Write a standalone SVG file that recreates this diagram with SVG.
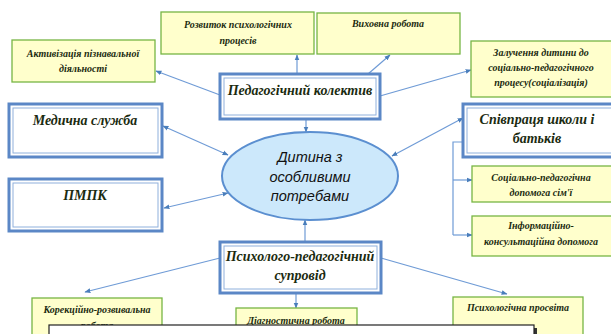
<svg xmlns="http://www.w3.org/2000/svg" width="611" height="334" viewBox="0 0 611 334">
<defs>
<marker id="ah" viewBox="0 0 10 10" refX="9" refY="5" markerWidth="6" markerHeight="6" orient="auto-start-reverse" markerUnits="userSpaceOnUse">
<path d="M0,1 L10,5 L0,9 z" fill="#4a7ebb"/>
</marker>
<style>
.g rect{fill:#ffffcc;stroke:#77b544;stroke-width:1.3}
.b .o{fill:#fff;stroke:#5b87c6;stroke-width:3}
.b .i{fill:none;stroke:#8fb0dc;stroke-width:1}
.gt{font-family:"Liberation Serif",serif;font-style:italic;font-weight:bold;font-size:10px;fill:#1b2b10;text-anchor:middle}
.bt{font-family:"Liberation Serif",serif;font-style:italic;font-weight:bold;font-size:14px;fill:#1b2b10;text-anchor:middle}
.et{font-family:"Liberation Sans",sans-serif;font-style:italic;font-size:14.5px;fill:#111;text-anchor:middle}
.c line,.c path{stroke:#6f9bd6;stroke-width:1.2;fill:none}
</style>
</defs>

<g class="c" id="connectors">
<line x1="220" y1="95" x2="156" y2="71" marker-end="url(#ah)"/>
<line x1="297" y1="74" x2="297" y2="55" marker-end="url(#ah)"/>
<line x1="368" y1="74" x2="390" y2="55" marker-end="url(#ah)"/>
<line x1="380" y1="96" x2="471" y2="70" marker-end="url(#ah)"/>
<line x1="306" y1="119" x2="306" y2="132" marker-end="url(#ah)"/>
<line x1="228" y1="155" x2="163" y2="126" marker-start="url(#ah)" marker-end="url(#ah)"/>
<line x1="228" y1="193" x2="164" y2="208" marker-start="url(#ah)" marker-end="url(#ah)"/>
<line x1="392" y1="156" x2="463" y2="118" marker-start="url(#ah)" marker-end="url(#ah)"/>
<path d="M463,142 H453 V235"/>
<line x1="453" y1="180" x2="472" y2="180" marker-end="url(#ah)"/>
<line x1="453" y1="235" x2="472" y2="235" marker-end="url(#ah)"/>
<line x1="305" y1="242" x2="305" y2="220" marker-end="url(#ah)"/>
<line x1="220" y1="258" x2="85" y2="292" marker-end="url(#ah)"/>
<line x1="296" y1="293" x2="296" y2="308" marker-end="url(#ah)"/>
<line x1="381" y1="258" x2="507" y2="294" marker-end="url(#ah)"/>
</g>

<g id="n-activ" class="g"><rect x="12" y="40" width="143" height="42"/>
<text class="gt" x="83" y="57">Активізація пізнавальної</text><text class="gt" x="83" y="72">діяльності</text></g>

<g id="n-rozvytok" class="g"><rect x="161" y="12" width="153" height="42"/>
<text class="gt" x="238" y="28">Розвиток психологічних</text><text class="gt" x="238" y="44">процесів</text></g>

<g id="n-vykhovna" class="g"><rect x="317" y="13" width="143" height="41"/>
<text class="gt" x="388" y="27">Виховна робота</text></g>

<g id="n-zaluch" class="g"><rect x="471" y="41" width="142" height="56"/>
<text class="gt" x="541" y="56">Залучення дитини до</text><text class="gt" x="541" y="71">соціально-педагогічного</text><text class="gt" x="541" y="86">процесу(соціалізація)</text></g>

<g id="n-sotsped" class="g"><rect x="472" y="166" width="141" height="36"/>
<text class="gt" x="541" y="181">Соціально-педагогічна</text><text class="gt" x="541" y="196">допомога сім'ї</text></g>

<g id="n-inform" class="g"><rect x="472" y="216" width="141" height="40"/>
<text class="gt" x="541" y="229">Інформаційно-</text><text class="gt" x="541" y="245">консультаційна допомога</text></g>

<g id="n-korek" class="g"><rect x="32" y="298" width="130" height="40"/>
<text class="gt" x="97" y="313">Корекційно-розвивальна</text><text class="gt" x="97" y="329">робота</text></g>

<g id="n-diagn" class="g"><rect x="236" y="308" width="121" height="30"/>
<text class="gt" x="296" y="324">Діагностична робота</text></g>

<g id="n-prosv" class="g"><rect x="453" y="297" width="130" height="41"/>
<text class="gt" x="518" y="311">Психологічна просвіта</text></g>

<g id="n-pedkol" class="b"><rect class="o" x="220" y="74" width="160" height="45"/><rect class="i" x="224" y="78" width="152" height="37"/>
<text class="bt" x="300" y="95">Педагогічний колектив</text></g>

<g id="n-med" class="b"><rect class="o" x="9" y="104" width="153" height="53"/><rect class="i" x="13" y="108" width="145" height="45"/>
<text class="bt" x="85" y="125">Медична служба</text></g>

<g id="n-pmpk" class="b"><rect class="o" x="9" y="179" width="153" height="52"/><rect class="i" x="13" y="183" width="145" height="44"/>
<text class="bt" x="85" y="200">ПМПК</text></g>

<g id="n-spivpr" class="b"><rect class="o" x="463" y="104" width="152" height="53"/><rect class="i" x="467" y="108" width="148" height="45"/>
<text class="bt" x="537" y="124">Співпраця школи і</text><text class="bt" x="537" y="143">батьків</text></g>

<g id="n-psyped" class="b"><rect class="o" x="220" y="242" width="161" height="51"/><rect class="i" x="224" y="246" width="153" height="43"/>
<text class="bt" x="300" y="261">Психолого-педагогічний</text><text class="bt" x="300" y="280">супровід</text></g>

<g id="n-child"><ellipse cx="310" cy="176" rx="88" ry="44" fill="#cce8fb" stroke="#5b8fd0" stroke-width="2"/>
<text class="et" x="310" y="162">Дитина з</text><text class="et" x="310" y="182">особливими</text><text class="et" x="310" y="201">потребами</text></g>

<g id="overlay">
<rect x="52" y="328" width="485" height="20" fill="#333"/>
<rect x="49" y="325" width="485" height="20" fill="#fff" stroke="#222" stroke-width="1.2"/>
</g>
</svg>
